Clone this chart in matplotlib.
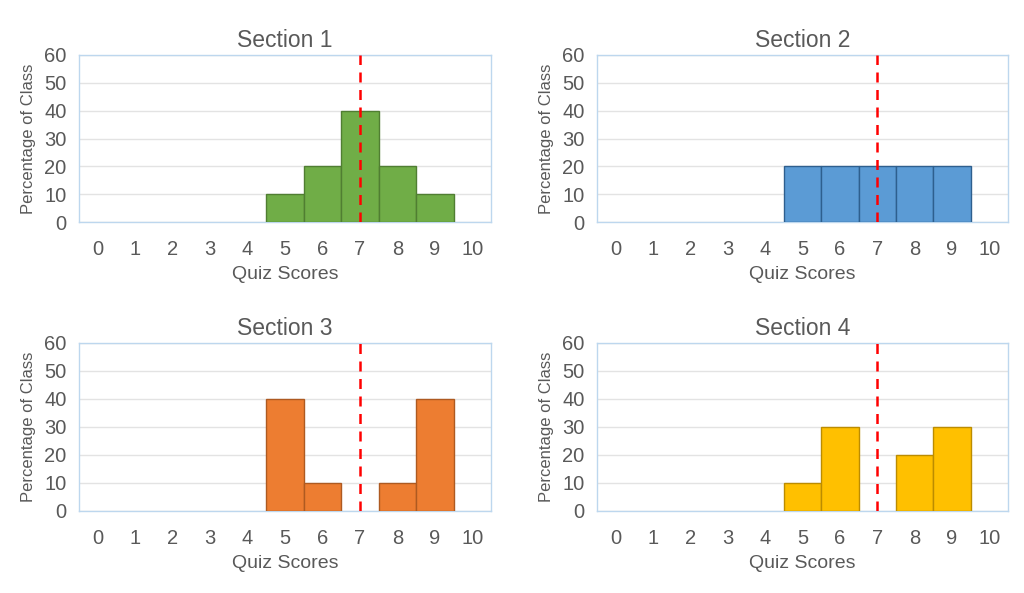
import numpy as np
import matplotlib.pyplot as plt

plt.rcParams['font.family'] = ['Liberation Sans', 'DejaVu Sans']

scores = list(range(11))
sec1 = [0, 0, 0, 0, 0, 10, 20, 40, 20, 10, 0]
sec2 = [0, 0, 0, 0, 0, 20, 20, 20, 20, 20, 0]
sec3 = [0, 0, 0, 0, 0, 40, 10, 0, 10, 40, 0]
sec4 = [0, 0, 0, 0, 0, 10, 30, 0, 20, 30, 0]
titles = ["Section 1", "Section 2", "Section 3", "Section 4"]
fills = ["#70AD47", "#5B9BD5", "#ED7D31", "#FFC000"]
edges = ["#507E32", "#2E5F8E", "#AE5A21", "#BC8C00"]
cutoff = 7

grey = "#595959"
fig = plt.figure(figsize=(10.24, 5.93), dpi=100)

# plot-area boxes in pixels: left, top, right, bottom
boxes = [(79, 55, 491, 222), (597, 55, 1008, 222),
         (79, 343, 491, 511), (597, 343, 1008, 511)]

for i, vals in enumerate([sec1, sec2, sec3, sec4]):
    l, t, r, b = boxes[i]
    ax = fig.add_axes([l / 1024, 1 - b / 593, (r - l) / 1024, (b - t) / 593])
    xs = [x for x, v in zip(scores, vals) if v > 0]
    hs = [v for v in vals if v > 0]
    ax.bar(xs, hs, width=1.0, color=fills[i], edgecolor=edges[i],
           linewidth=1.0, zorder=3)
    ax.axvline(cutoff, color="#FF0000", linestyle=(0, (4, 3)), linewidth=1.8,
               zorder=4)
    ax.set_xlim(-0.5, 10.5)
    ax.set_ylim(0, 60)
    ax.set_yticks(range(0, 61, 10))
    ax.set_xticks(scores)
    ax.grid(axis="y", color="#E3E3E3", linewidth=1.0, zorder=0)
    for s in ax.spines.values():
        s.set_color("#BDD7EE")
        s.set_linewidth(1.0)
    ax.tick_params(axis="both", length=0, labelsize=14.5, labelcolor=grey)
    ax.tick_params(axis="x", pad=13)
    ax.tick_params(axis="y", pad=9)
    ax.set_title(titles[i], fontsize=16.5, color=grey, pad=6)
    ax.set_xlabel("Quiz Scores", fontsize=14, color=grey, labelpad=5)
    ax.set_ylabel("Percentage of Class", fontsize=12, color=grey, labelpad=6)

fig.savefig("out.png", dpi=100)
